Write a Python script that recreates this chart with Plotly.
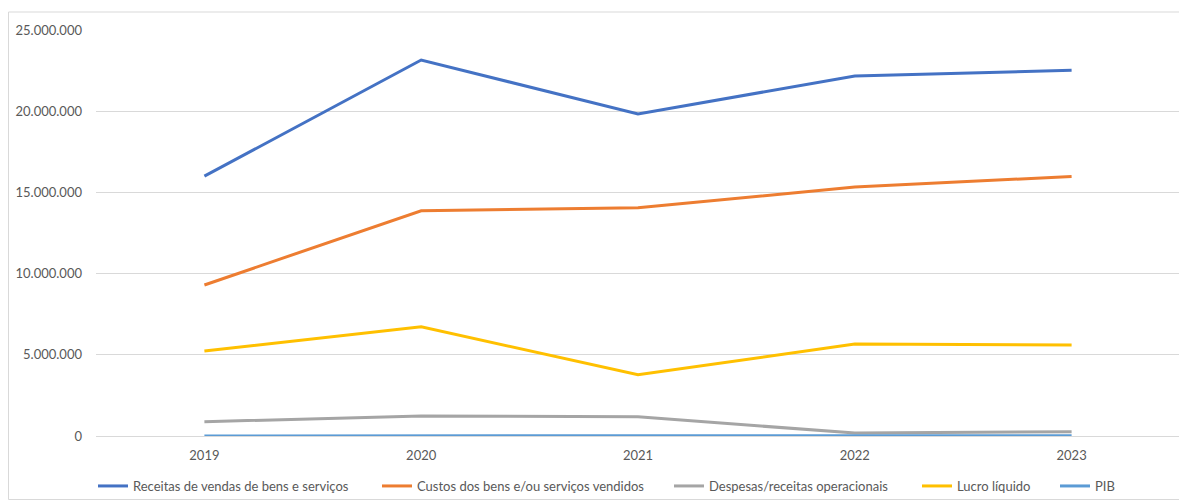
import plotly.graph_objects as go

years = ["2019", "2020", "2021", "2022", "2023"]
receitas = [16000000, 23150000, 19830000, 22170000, 22520000]
custos = [9300000, 13870000, 14050000, 15330000, 15980000]
despesas = [880000, 1230000, 1180000, 180000, 260000]
lucro = [5240000, 6720000, 3770000, 5660000, 5600000]
pib = [7389, 7610, 9012, 10080, 10856]

series_names = [
    "Receitas de vendas de bens e serviços",
    "Custos dos bens e/ou serviços vendidos",
    "Despesas/receitas operacionais",
    "Lucro líquido",
    "PIB",
]
series_values = [receitas, custos, despesas, lucro, pib]
colors = ["#4472C4", "#ED7D31", "#A5A5A5", "#FFC000", "#5B9BD5"]
y_ticks = [0, 5000000, 10000000, 15000000, 20000000, 25000000]

# page body has an 8px margin, so the figure is drawn 8px in from the window edge
W, H = 1179, 492
L, R, T, B = 88, 7, 22, 64
pw = W - L - R
ph = H - T - B

legend_px = [90, 374, 666, 914, 1052]  # left edge of each legend line (figure px)
LEG_OFF = 5

fig = go.Figure()
legend_ids = ["legend", "legend2", "legend3", "legend4", "legend5"]
for name, vals, col, lid in zip(series_names, series_values, colors, legend_ids):
    fig.add_trace(go.Scatter(
        x=years, y=vals, name=name, mode="lines",
        line=dict(color=col, width=3), legend=lid,
    ))

legend_layout = {}
for lid, px in zip(legend_ids, legend_px):
    legend_layout[lid] = dict(
        orientation="h", x=(px - LEG_OFF - L) / pw, xanchor="left",
        y=(ph - (478 - T)) / ph, yanchor="middle",
        font=dict(size=13, color="#595959"),
        itemwidth=30, bgcolor="rgba(0,0,0,0)",
    )

fig.update_layout(
    width=W, height=H,
    margin=dict(l=L, r=R, t=T, b=B, autoexpand=False),
    paper_bgcolor="white", plot_bgcolor="white",
    separators=",.",
    font=dict(family="Lato, 'Open Sans', sans-serif", size=13, color="#595959"),
    showlegend=True,
    xaxis=dict(
        type="category", range=[-0.5, 4.5], automargin=False,
        showgrid=False, zeroline=False, showline=False,
        ticks="", ticklabelstandoff=10,
        tickfont=dict(size=13, color="#595959"),
    ),
    yaxis=dict(
        range=[0, 25000000], tickvals=y_ticks, tickformat=",d", automargin=False,
        showgrid=True, gridcolor="#D9D9D9", gridwidth=1,
        zeroline=True, zerolinecolor="#D9D9D9", zerolinewidth=1,
        showline=False, ticks="", ticklabelstandoff=13,
        tickfont=dict(size=13, color="#595959"),
    ),
    shapes=[dict(
        type="rect", xref="paper", yref="paper",
        x0=(0.5 - L) / pw, x1=(W - 0.5 - L) / pw,
        y0=-(H - 0.5 - (T + ph)) / ph, y1=1 + (T - 4) / ph,
        line=dict(color="#D9D9D9", width=1), layer="below",
    )],
    **legend_layout,
)

fig.write_html("out.html")
